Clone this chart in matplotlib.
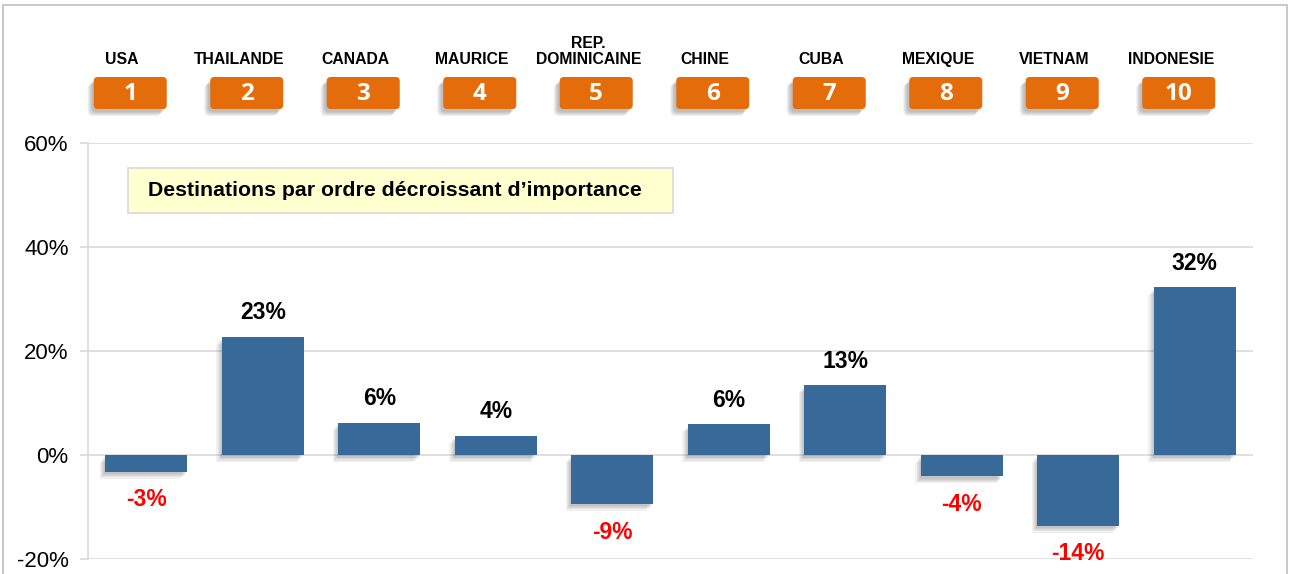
import matplotlib
matplotlib.use("Agg")
import matplotlib.pyplot as plt
import matplotlib.patches as patches
import matplotlib.patheffects as pe
import matplotlib.transforms as mtransforms

plt.rcParams['font.family'] = ['Liberation Sans', 'DejaVu Sans']

countries = ["USA", "THAILANDE", "CANADA", "MAURICE", "REP.\nDOMINICAINE",
             "CHINE", "CUBA", "MEXIQUE", "VIETNAM", "INDONESIE"]
ranks = ["1", "2", "3", "4", "5", "6", "7", "8", "9", "10"]
growth = [-3.2, 22.7, 6.2, 3.7, -9.4, 5.9, 13.4, -4.1, -13.6, 32.3]
y_ticks = [-20, 0, 20, 40, 60]
legend_text = "Destinations par ordre d\u00e9croissant d\u2019importance"

W, H = 1292, 574
BAR_COLOR = '#386A99'
ORANGE = '#E46C0A'
GRID = '#D9D9D9'

fig = plt.figure(figsize=(W / 100, H / 100), dpi=100)
px = mtransforms.Affine2D().scale(1 / W, 1 / H) + fig.transFigure

# outer frame
fig.add_artist(patches.Rectangle((3, -10), 1284, H - 5 + 10, transform=px,
                                 fill=False, edgecolor='#BFBFBF', linewidth=1.2))

ax = fig.add_axes([88 / W, (H - 559) / H, (1253 - 88) / W, (559 - 143) / H])
x = range(len(countries))
bars = ax.bar(x, growth, width=0.7, color=BAR_COLOR, zorder=3)
soft_shadow = [pe.SimplePatchShadow(offset=(-d, -d - 1), shadow_rgbFace='#404040', alpha=0.07)
               for d in (4, 3, 2.2, 1.5, 0.8)]
for b in bars:
    b.set_path_effects(soft_shadow + [pe.Normal()])

ax.set_xlim(-0.5, len(countries) - 0.5)
ax.set_ylim(-20, 60)
ax.set_yticks(y_ticks)
ax.set_yticklabels([f"{t}%" for t in y_ticks], fontsize=16)
ax.set_xticks([])
ax.grid(axis='y', color=GRID, linewidth=1.2, zorder=0)
ax.tick_params(axis='y', length=6, color=GRID, width=1.2, pad=8)
for s in ['top', 'right', 'bottom']:
    ax.spines[s].set_visible(False)
ax.spines['left'].set_color(GRID)
ax.spines['left'].set_linewidth(1.2)

# value labels
for i, v in enumerate(growth):
    if v >= 0:
        ax.annotate(f"{v:.0f}%", (i, v), xytext=(0, 9), textcoords='offset points',
                    ha='center', va='bottom', fontsize=16.5, fontweight='bold', color='black')
    else:
        ax.annotate(f"{v:.0f}%", (i, v), xytext=(0, -12), textcoords='offset points',
                    ha='center', va='top', fontsize=16.5, fontweight='bold', color='#FF0000')

# note box
fig.add_artist(patches.Rectangle((128, H - 213), 545, 45, transform=px,
                                 facecolor='#FFFFD0', edgecolor=GRID, linewidth=1.2))
fig.text(148 / W, (H - 190.5) / H, legend_text, fontsize=15.3, fontweight='bold',
         ha='left', va='center')

# rank boxes and country names above the plot
fig.canvas.draw()
for i, (name, r) in enumerate(zip(countries, ranks)):
    cx = ax.transData.transform((i, 0))[0]
    bx = cx - 16
    bw, bh = 73, 32
    by = H - 109
    for d in (6, 5, 4, 3, 2):
        fig.add_artist(patches.FancyBboxPatch((bx - bw / 2 - d, by - d - 1), bw, bh,
                                              boxstyle="round,pad=0,rounding_size=5", transform=px,
                                              facecolor='#303030', edgecolor='none', alpha=0.07))
    fig.add_artist(patches.FancyBboxPatch((bx - bw / 2, by), bw, bh,
                                          boxstyle="round,pad=0,rounding_size=4", transform=px,
                                          facecolor=ORANGE, edgecolor='none'))
    fig.text(bx / W, (by + bh / 2 - 1) / H, r, fontsize=17.5, fontweight='bold', color='white',
             ha='center', va='center', family=['Open Sans', 'DejaVu Sans'])
    fig.text((cx - 24) / W, (H - 64) / H, name, fontsize=11.3, fontweight='bold',
             ha='center', va='baseline', linespacing=1.05, multialignment='center')

fig.savefig("out.png", dpi=100)
